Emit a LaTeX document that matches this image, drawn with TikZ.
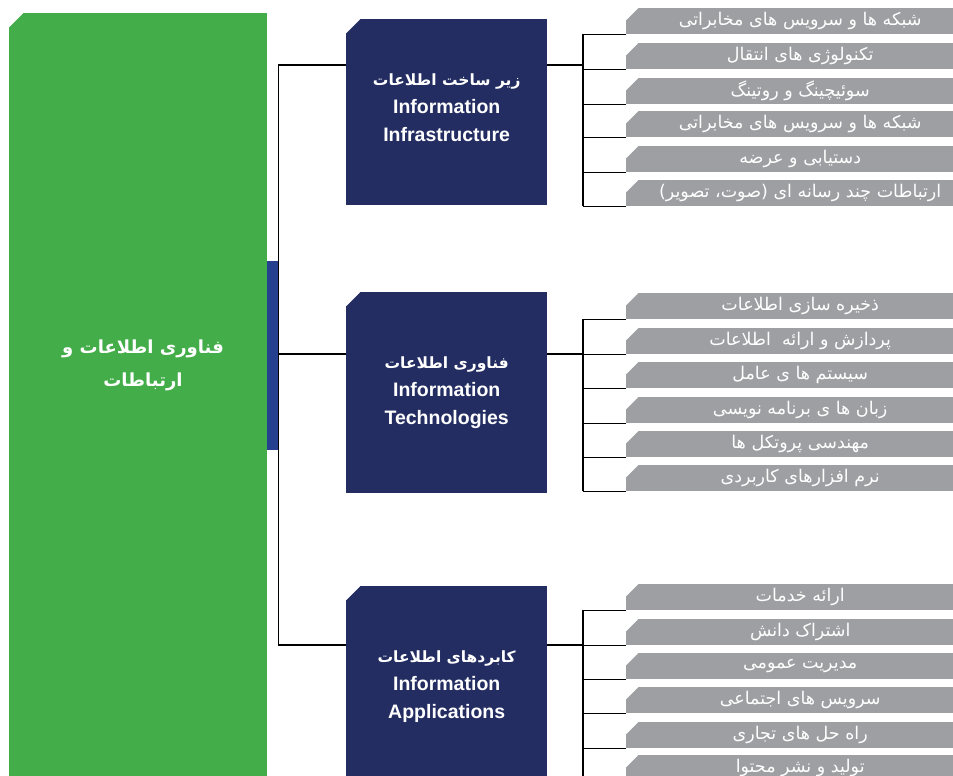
\documentclass[tikz,border=0pt]{standalone}
\usepackage{fontspec}
\setmainfont{Liberation Sans}
\newfontfamily\persfont[Script=Arabic]{DejaVu Sans}
\TeXXeTstate=1
\usetikzlibrary{calc}

\newcommand{\fatext}[1]{\beginR #1\endR}

\definecolor{ictgreen}{RGB}{67,173,74}
\definecolor{ictnavy}{RGB}{35,45,98}
\definecolor{ictblue}{RGB}{37,64,143}
\definecolor{ictgray}{RGB}{158,159,163}

\tikzset{
  cutcorner/.style={path picture={\fill[white] (path picture bounding box.north west) -- ++(#1,0) -- ++(-#1,#1) -- cycle;}},
  greenbox/.style={anchor=north west, fill=ictgreen, inner sep=0pt, minimum width=258pt, minimum height=790pt, cutcorner=14},
  darkbox/.style={anchor=north west, fill=ictnavy, inner sep=0pt, minimum width=201pt, cutcorner=14, text=white, align=center, font=\bfseries\fontsize{19.5}{28}\selectfont},
  itembox/.style={anchor=north west, fill=ictgray, inner sep=0pt, minimum width=348pt, minimum height=26pt, cutcorner=12, text=white, font=\persfont\fontsize{17.5}{20}\selectfont},
  link/.style={draw=black, line width=1.2pt}
}

\begin{document}
\begin{tikzpicture}[x=1pt,y=-1pt]
\useasboundingbox (0,0) rectangle (953,776);
\clip (0,0) rectangle (953,776);

% Define positions
\def\spinex{583}     %x of the right-hand spines.
\def\itemx{626}      %left edge of the grey items.
\coordinate (tap1) at (\spinex,65);
\coordinate (tap2) at (\spinex,354);
\coordinate (tap3) at (\spinex,645);

% ICT block
\node[greenbox] (ict) at (9,13) {};
\node[text=white, align=center, font=\persfont\bfseries\fontsize{18}{33}\selectfont] (ictlbl) at (143,365)
  {\fatext{فناوری اطلاعات و}\\\fatext{ارتباطات}};
\node[anchor=north west, fill=ictblue, inner sep=0pt, minimum width=11pt, minimum height=189pt] (strip) at (267,261) {};

% Three branches
\node[darkbox, minimum height=186pt] (infra) at (346,19)
  {{\persfont\fontsize{15.5}{28}\selectfont\fatext{زیر ساخت اطلاعات}}\\Information\\Infrastructure\\[-18pt]\mbox{}};
\node[darkbox, minimum height=201pt] (tech) at (346,292)
  {{\persfont\fontsize{15.5}{28}\selectfont\fatext{فناوری اطلاعات}}\\Information\\Technologies};
\node[darkbox, minimum height=200pt] (apps) at (346,586)
  {{\persfont\fontsize{15.5}{28}\selectfont\fatext{کابردهای اطلاعات}}\\Information\\Applications};

% Infrastructure items
\node[itembox] (it11) at (\itemx,8)   {\fatext{شبکه ها و سرویس های مخابراتی}};
\node[itembox] (it12) at (\itemx,43)  {\fatext{تکنولوژی های انتقال}};
\node[itembox] (it13) at (\itemx,78)  {\fatext{سوئیچینگ و روتینگ}};
\node[itembox] (it14) at (\itemx,111) {\fatext{شبکه ها و سرویس های مخابراتی}};
\node[itembox] (it15) at (\itemx,146) {\fatext{دستیابی و عرضه}};
\node[itembox] (it16) at (\itemx,180) {\fatext{ارتباطات چند رسانه ای (صوت، تصویر)}};

% Technologies items
\node[itembox] (it21) at (\itemx,293) {\fatext{ذخیره سازی اطلاعات}};
\node[itembox] (it22) at (\itemx,328) {\fatext{پردازش و ارائه~ اطلاعات}};
\node[itembox] (it23) at (\itemx,362) {\fatext{سیستم ها ی عامل}};
\node[itembox] (it24) at (\itemx,397) {\fatext{زبان ها ی برنامه نویسی}};
\node[itembox] (it25) at (\itemx,431) {\fatext{مهندسی پروتکل ها}};
\node[itembox] (it26) at (\itemx,465) {\fatext{نرم افزارهای کاربردی}};

% Applications items
\node[itembox] (it31) at (\itemx,584) {\fatext{ارائه خدمات}};
\node[itembox] (it32) at (\itemx,619) {\fatext{اشتراک دانش}};
\node[itembox] (it33) at (\itemx,653) {\fatext{مدیریت عمومی}};
\node[itembox] (it34) at (\itemx,687) {\fatext{سرویس های اجتماعی}};
\node[itembox] (it35) at (\itemx,722) {\fatext{راه حل های تجاری}};
\node[itembox] (it36) at (\itemx,755) {\fatext{تولید و نشر محتوا}};

% Left bus
\draw[link] (infra.west |- tap1) -| (strip.east) |- (apps.west |- tap3);
\draw[link] (tech.west |- tap2) -- (strip.east |- tap2);

% Right spines
\foreach \g in {1,2,3} {
  \draw[link] (tap\g |- it\g1.south west) -- (tap\g |- it\g6.south west);
  \foreach \i in {1,...,6}
    \draw[link] (it\g\i.south west) -- (tap\g |- it\g\i.south west);
}
\draw[link] (infra.east |- tap1) -- (tap1);
\draw[link] (tech.east |- tap2) -- (tap2);
\draw[link] (apps.east |- tap3) -- (tap3);

\end{tikzpicture}
\end{document}
